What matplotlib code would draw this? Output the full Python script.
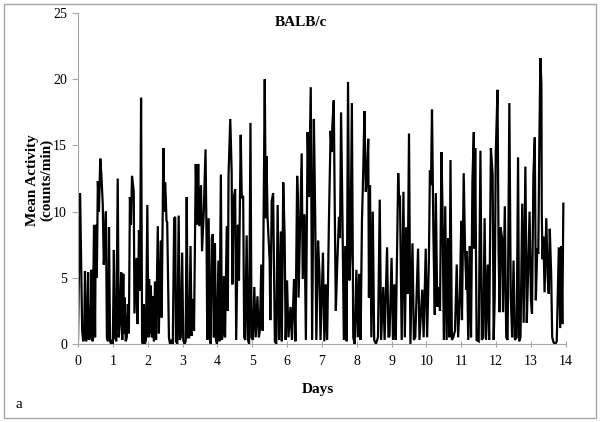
import matplotlib
matplotlib.use("Agg")
from matplotlib import pyplot as plt
from matplotlib.patches import Rectangle

# lecturas aproximadas de la curva (dias, actividad media)
dias = [
    0.00, 0.06, 0.12, 0.15, 0.18, 0.20, 0.23, 0.26, 0.29, 0.32, 0.36, 0.39, 0.42, 0.46, 0.49,
    0.51, 0.54, 0.57, 0.60, 0.64, 0.67, 0.71, 0.74, 0.77, 0.80, 0.83, 0.86, 0.89, 0.92, 0.95,
    0.98, 1.00, 1.03, 1.06, 1.10, 1.14, 1.17, 1.20, 1.24, 1.27, 1.30, 1.32, 1.34, 1.37, 1.40,
    1.43, 1.46, 1.49, 1.52, 1.55, 1.60, 1.62, 1.68, 1.71, 1.75, 1.78, 1.81, 1.84, 1.86, 1.89,
    1.92, 1.95, 1.99, 2.02, 2.04, 2.06, 2.09, 2.12, 2.15, 2.18, 2.21, 2.24, 2.29, 2.32, 2.35,
    2.38, 2.40, 2.45, 2.48, 2.50, 2.52, 2.54, 2.56, 2.58, 2.61, 2.64, 2.68, 2.72, 2.76, 2.79,
    2.81, 2.85, 2.89, 2.92, 2.95, 2.99, 3.02, 3.06, 3.09, 3.12, 3.15, 3.19, 3.23, 3.26, 3.30,
    3.33, 3.38, 3.42, 3.45, 3.48, 3.53, 3.56, 3.61, 3.66, 3.69, 3.71, 3.75, 3.78, 3.81, 3.84,
    3.87, 3.90, 3.93, 3.96, 3.99, 4.03, 4.06, 4.10, 4.13, 4.16, 4.19, 4.22, 4.27, 4.30, 4.32,
    4.37, 4.41, 4.43, 4.47, 4.51, 4.54, 4.59, 4.62, 4.67, 4.70, 4.74, 4.77, 4.80, 4.84, 4.88,
    4.91, 4.95, 4.98, 5.02, 5.06, 5.10, 5.15, 5.19, 5.22, 5.26, 5.30, 5.36, 5.39, 5.41, 5.44,
    5.49, 5.50, 5.52, 5.56, 5.60, 5.62, 5.65, 5.69, 5.73, 5.77, 5.82, 5.85, 5.89, 5.93, 5.96,
    6.00, 6.04, 6.10, 6.14, 6.20, 6.24, 6.29, 6.31, 6.33, 6.42, 6.45, 6.50, 6.54, 6.59, 6.63,
    6.68, 6.72, 6.77, 6.81, 6.84, 6.89, 6.93, 6.96, 7.03, 7.07, 7.11, 7.15, 7.20, 7.25, 7.28,
    7.30, 7.34, 7.37, 7.40, 7.44, 7.49, 7.52, 7.55, 7.59, 7.63, 7.67, 7.71, 7.75, 7.79, 7.82,
    7.86, 7.90, 7.94, 7.99, 8.03, 8.07, 8.11, 8.15, 8.19, 8.22, 8.26, 8.30, 8.33, 8.35, 8.38,
    8.42, 8.46, 8.50, 8.55, 8.61, 8.66, 8.70, 8.76, 8.80, 8.87, 8.91, 8.94, 9.00, 9.04, 9.08,
    9.12, 9.19, 9.22, 9.24, 9.29, 9.34, 9.38, 9.43, 9.46, 9.50, 9.54, 9.60, 9.64, 9.68, 9.76,
    9.80, 9.88, 9.92, 9.98, 10.02, 10.07, 10.10, 10.13, 10.16, 10.20, 10.24, 10.27, 10.31, 10.35, 10.39,
    10.43, 10.46, 10.50, 10.54, 10.58, 10.62, 10.66, 10.69, 10.73, 10.77, 10.82, 10.87, 10.91, 10.96, 11.00,
    11.02, 11.07, 11.11, 11.15, 11.16, 11.20, 11.24, 11.28, 11.32, 11.36, 11.38, 11.40, 11.44, 11.50, 11.55,
    11.59, 11.63, 11.67, 11.71, 11.76, 11.80, 11.85, 11.90, 11.93, 11.96, 11.99, 12.04, 12.07, 12.10, 12.13,
    12.17, 12.20, 12.25, 12.29, 12.33, 12.38, 12.42, 12.46, 12.50, 12.54, 12.59, 12.63, 12.66, 12.70, 12.75,
    12.79, 12.84, 12.88, 12.90, 12.96, 13.00, 13.03, 13.07, 13.11, 13.14, 13.18, 13.21, 13.24, 13.27, 13.30,
    13.31, 13.33, 13.36, 13.39, 13.44, 13.48, 13.51, 13.54, 13.58, 13.61, 13.65, 13.70, 13.74, 13.80, 13.84,
    13.87, 13.90, 13.93,
]
actividad = [
    0.3, 11.4, 1.0, 0.2, 0.8, 5.5, 0.2, 0.5, 5.4, 0.3, 0.8, 5.6, 0.2, 9.0, 0.5,
    9.0, 5.0, 12.3, 10.0, 14.0, 12.8, 10.6, 6.0, 7.5, 10.0, 0.5, 0.2, 8.8, 0.2, 0.0,
    0.3, 0.0, 7.1, 0.5, 0.2, 12.5, 0.5, 1.5, 5.4, 0.3, 5.3, 0.8, 3.5, 0.2, 0.5,
    3.0, 0.8, 11.1, 9.0, 12.7, 11.5, 2.3, 6.5, 1.5, 8.6, 4.0, 18.6, 0.3, 0.0, 3.0,
    0.0, 0.3, 10.5, 0.5, 4.9, 0.8, 4.4, 0.5, 3.6, 0.2, 4.7, 0.3, 8.9, 0.8, 4.6,
    7.8, 2.0, 14.8, 10.0, 12.2, 11.0, 9.3, 9.2, 5.6, 0.5, 0.0, 0.3, 0.0, 9.5, 9.6,
    0.2, 0.0, 9.7, 0.3, 0.5, 6.9, 0.3, 0.0, 0.2, 11.1, 0.5, 0.5, 7.4, 0.6, 3.4,
    1.0, 13.6, 9.0, 13.6, 8.9, 12.0, 7.0, 10.0, 14.7, 7.8, 0.3, 9.5, 0.5, 0.0, 8.0,
    8.3, 0.5, 7.6, 0.3, 0.0, 6.3, 0.2, 12.8, 0.3, 0.8, 5.1, 0.5, 8.9, 2.5, 12.7,
    17.0, 13.0, 4.5, 11.0, 11.7, 0.3, 9.0, 4.8, 15.8, 11.0, 11.2, 0.5, 0.3, 8.2, 0.3,
    0.0, 16.7, 0.5, 0.3, 4.3, 0.5, 3.6, 0.5, 1.0, 6.0, 1.0, 20.0, 9.5, 14.2, 9.6,
    6.9, 6.3, 1.8, 10.8, 11.4, 6.9, 0.2, 0.0, 10.5, 0.3, 8.5, 0.2, 12.2, 8.2, 0.3,
    4.8, 0.5, 2.8, 0.3, 4.9, 0.2, 12.7, 11.1, 3.5, 14.4, 4.9, 9.8, 0.3, 16.0, 11.1,
    19.4, 0.3, 17.0, 9.2, 0.3, 7.8, 5.3, 0.3, 6.9, 0.2, 4.5, 0.3, 9.0, 16.1, 14.5,
    16.5, 18.4, 10.0, 2.5, 6.0, 9.6, 8.0, 17.5, 9.6, 0.3, 7.4, 0.2, 19.8, 4.8, 6.7,
    18.2, 0.5, 0.0, 5.6, 0.5, 5.3, 0.3, 9.3, 13.5, 17.6, 11.5, 13.0, 15.5, 3.5, 12.0,
    0.5, 10.0, 0.3, 0.0, 0.5, 10.9, 0.3, 4.3, 0.3, 7.3, 0.5, 0.6, 6.5, 0.3, 4.5,
    0.3, 12.9, 10.5, 11.2, 0.3, 11.5, 0.5, 8.8, 3.8, 15.9, 0.0, 7.6, 0.3, 0.5, 7.2,
    0.3, 4.1, 0.5, 7.2, 0.5, 6.2, 13.1, 12.0, 17.7, 8.3, 2.2, 11.4, 2.8, 4.3, 2.5,
    14.5, 10.5, 0.3, 10.4, 0.3, 8.0, 0.5, 13.9, 0.3, 0.5, 1.0, 6.0, 0.5, 3.6, 9.3,
    1.8, 12.9, 6.9, 4.1, 7.0, 0.3, 7.4, 0.5, 12.3, 16.0, 7.2, 14.8, 0.3, 0.2, 14.6,
    0.3, 0.5, 9.5, 0.3, 6.0, 0.3, 14.8, 12.8, 0.3, 3.5, 14.4, 19.2, 7.2, 2.4, 8.8,
    8.0, 2.4, 10.4, 0.5, 0.3, 18.2, 3.6, 0.5, 6.3, 0.3, 0.5, 14.1, 0.2, 0.5, 10.6,
    1.6, 13.4, 1.6, 3.6, 10.0, 3.3, 2.3, 12.8, 15.6, 3.3, 7.2, 6.8, 15.0, 21.6, 19.6,
    10.0, 6.4, 8.1, 3.9, 9.5, 5.0, 3.8, 8.7, 5.3, 0.5, 0.1, 0.0, 0.2, 7.3, 1.2,
    7.4, 1.5, 10.6,
]
ticks_x = list(range(0, 15))
ticks_y = [0, 5, 10, 15, 20, 25]

serif = ["Liberation Serif", "DejaVu Serif"]
gris = "#a6a6a6"

fig = plt.figure(figsize=(6.0, 4.22), dpi=100)
ax = fig.add_axes([0.13, 0.185, 0.813, 0.784])

ax.plot(dias, actividad, color="black", lw=1.6, solid_joinstyle="miter")

ax.set_xlim(0, 14)
ax.set_ylim(0, 25)
ax.set_xticks(ticks_x)
ax.set_yticks(ticks_y)
for s in ["top", "right"]:
    ax.spines[s].set_visible(False)
for s in ["left", "bottom"]:
    ax.spines[s].set_color(gris)
    ax.spines[s].set_linewidth(0.8)
ax.tick_params(axis="x", direction="inout", length=4, color=gris, pad=6)
ax.tick_params(axis="y", direction="out", length=4, color=gris, pad=4)
for lbl in ax.get_xticklabels() + ax.get_yticklabels():
    lbl.set_family(serif)
    lbl.set_fontsize(10)

#textos fuera del eje
fig.text(301 / 600, 1 - 23 / 422, "BALB/c", ha="center", va="center",
         family=serif, fontsize=11, fontweight="bold")
fig.text(40 / 600, 1 - 180 / 422, "Mean Activity\n(counts/min)", ha="center", va="center",
         rotation=90, family=serif, fontsize=11, fontweight="bold", linespacing=1.1)
fig.text(318 / 600, 1 - 390 / 422, "Days", ha="center", va="center",
         family=serif, fontsize=11, fontweight="bold")
fig.text(16 / 600, 1 - 404 / 422, "a", ha="left", va="center", family=serif, fontsize=11)

# borde del grafico
fig.patches.append(Rectangle((4 / 600, 4 / 422), 592 / 600, 414 / 422, transform=fig.transFigure,
                             fill=False, edgecolor=gris, lw=1.0))

fig.savefig("out.png", dpi=100, facecolor="white")
